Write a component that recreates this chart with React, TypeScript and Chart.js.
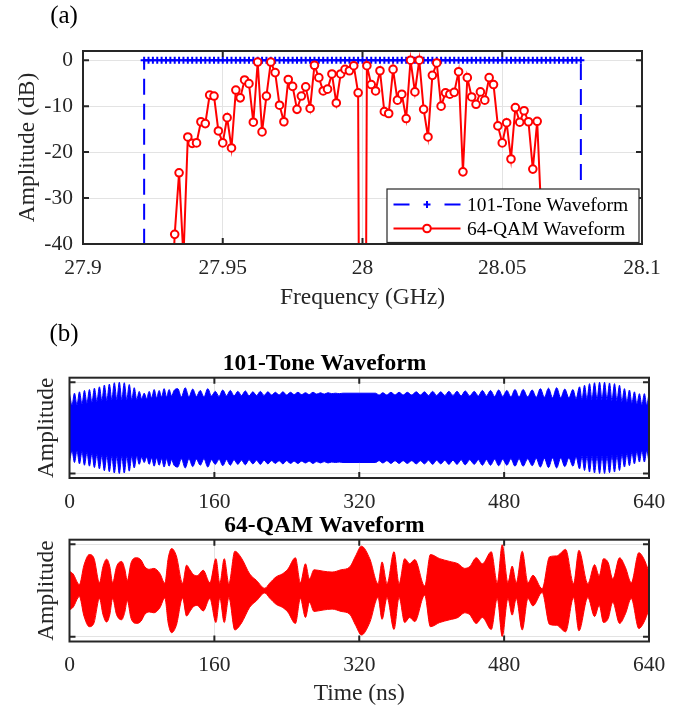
import React, { useEffect, useRef } from 'react';
import { Chart, registerables } from 'chart.js';

Chart.register(...registerables);

// ---------------- Panel (a): spectrum ----------------
const binCenterGHz = 28;
const binSpacingGHz = 0.0015625; // 1.5625 MHz tone spacing
const binCount = 101; // bins k = -50 .. 50

const toneLevelDb = [
  0, 0, 0, 0, 0, 0, 0, 0, 0, 0,
  0, 0, 0, 0, 0, 0, 0, 0, 0, 0,
  0, 0, 0, 0, 0, 0, 0, 0, 0, 0,
  0, 0, 0, 0, 0, 0, 0, 0, 0, 0,
  0, 0, 0, 0, 0, 0, 0, 0, 0, 0,
  0,
  0, 0, 0, 0, 0, 0, 0, 0, 0, 0,
  0, 0, 0, 0, 0, 0, 0, 0, 0, 0,
  0, 0, 0, 0, 0, 0, 0, 0, 0, 0,
  0, 0, 0, 0, 0, 0, 0, 0, 0, 0,
  0, 0, 0, 0, 0, 0, 0, 0, 0, 0,
];
const toneEdgeDb = -100;

// k = -50 .. 50
const qamLevelDb: (number | null)[] = [
  null, null, null, null, null, null, -60, -37.9, -24.5, -43,
  -16.7, -18.1, -18.0, -13.4, -13.8, -7.6, -7.8, -15.4, -18.0, -12.5,
  -19.1, -6.5, -8.2, -4.3, -5.1, -13.5, -0.4, -15.6, -7.8, -0.4,
  -2.7, -9.8, -13.4, -4.2, -5.7, -10.7, -7.8, -5.8, -10.5, -1.1,
  -3.8, -6.7, -6.3, -3.0, -9.3, -3.0, -2.0, -2.3, -1.2, -7.1,
  -250,
  -1.2, -5.3, -6.7, -2.3, -11.2, -11.6, -2.0, -8.7, -7.4, -12.7,
  0, -6.9, 0, -10.7, -16.7, -3.3, -0.6, -10.0, -7.1, -7.4,
  -7.0, -2.5, -24.3, -3.8, -8.0, -9.6, -6.9, -8.7, -3.8, -5.3,
  -14.3, -18.0, -13.6, -21.5, -10.3, -13.5, -11.0, -13.4, -23.7, -13.3,
  -35, -38, -45, null, null, null, null, null, null, null,
];

const freqTicks = [27.9, 27.95, 28, 28.05, 28.1];
const freqTickLabels = ['27.9', '27.95', '28', '28.05', '28.1'];
const dbTicks = [-40, -30, -20, -10, 0];
const dbTickLabels = ['-40', '-30', '-20', '-10', '0'];

// ---------------- Panel (b): time-domain envelopes ----------------
const timeTicks = [0, 160, 320, 480, 640];
const timeTickLabels = ['0', '160', '320', '480', '640'];
const ampTicks = [-1, 1];

const toneTimeNs = [
  0, 2.75, 5.5, 8.25, 11, 13.75, 16.5, 19.25, 22, 24.75,
  27.5, 30.25, 33, 35.75, 38.5, 41.25, 44, 46.75, 49.5, 52.25,
  55, 57.75, 60.5, 63.25, 66, 68.75, 71.5, 74.25, 77, 79.75,
  82.5, 85.25, 88, 90.75, 93.5, 96.25, 99, 101.75, 104.5, 107.25,
  110, 112.75, 115.5,
  119.5, 123.6, 127.8, 131.9, 136.1, 140.2, 144.4, 148.5, 152.7, 156.8,
  161, 165.1, 169.3, 173.4, 177.6, 181.7, 185.9, 190, 194.2, 198.3,
  202.5, 206.6, 210.8, 214.9, 219.1, 223.2, 227.4, 231.5, 235.7, 239.8,
  244, 248.1, 252.3, 256.4, 260.6, 264.7, 268.9, 273, 277.2, 281.3,
  285.5, 289.6, 293.8, 297.9, 302.1,
  320, 338,
  342, 346, 350.5, 355, 359.5, 364, 368.5, 373, 378, 383,
  387.5, 392, 396.5, 401, 405.5, 410, 414.5, 419, 423.5, 428,
  432.5, 437, 442, 447, 451.5, 456, 460.5, 465, 469.5, 474,
  478.5, 483, 487.5, 492, 496.5, 501, 506, 511, 515.5, 520,
  524.5, 529, 533.5, 538, 542.5, 547, 551.5, 556, 559.5,
  563.3, 566, 568.8, 571.5, 574.3, 577, 579.8, 582.6, 585.4, 588.1,
  590.9, 593.6, 596.4, 599.1, 601.9, 604.6, 607.4, 610.1, 612.9, 615.6,
  618.4, 621.1, 623.9, 626.6, 629.4, 632.1, 634.9, 637.5, 640,
];
const toneEnvelope = [
  0.75, 0.5, 0.76, 0.5, 0.79, 0.52, 0.82, 0.54, 0.84, 0.56,
  0.87, 0.58, 0.9, 0.6, 0.94, 0.6, 0.96, 0.62, 0.99, 0.62,
  1.0, 0.62, 0.99, 0.62, 0.95, 0.62, 0.88, 0.62, 0.8, 0.64,
  0.76, 0.64, 0.8, 0.66, 0.84, 0.66, 0.82, 0.68, 0.86, 0.68,
  0.84, 0.7, 0.82,
  0.86, 0.68, 0.88, 0.68, 0.85, 0.69, 0.82, 0.68, 0.86, 0.7,
  0.8, 0.69, 0.83, 0.7, 0.82, 0.7, 0.8, 0.71, 0.81, 0.7,
  0.79, 0.71, 0.8, 0.71, 0.79, 0.72, 0.78, 0.72, 0.79, 0.72,
  0.78, 0.73, 0.78, 0.73, 0.77, 0.73, 0.78, 0.74, 0.77, 0.74,
  0.77, 0.75, 0.76, 0.75, 0.76,
  0.76, 0.76,
  0.72, 0.77, 0.72, 0.78, 0.72, 0.78, 0.72, 0.78, 0.72, 0.79,
  0.72, 0.79, 0.71, 0.8, 0.71, 0.79, 0.71, 0.8, 0.71, 0.8,
  0.7, 0.81, 0.7, 0.8, 0.7, 0.82, 0.7, 0.82, 0.69, 0.83,
  0.69, 0.82, 0.68, 0.84, 0.68, 0.84, 0.68, 0.83, 0.67, 0.86,
  0.67, 0.87, 0.66, 0.88, 0.66, 0.85, 0.66, 0.84, 0.64,
  0.9, 0.62, 0.935, 0.62, 0.97, 0.62, 0.99, 0.62, 1.0, 0.62,
  1.0, 0.62, 0.985, 0.6, 0.97, 0.6, 0.935, 0.58, 0.86, 0.56,
  0.83, 0.54, 0.79, 0.52, 0.75, 0.5, 0.75, 0.5, 0.75,
];

const qamTimeNs = [
  0, 4, 10.9, 16, 21.9, 27, 33.1, 37, 41, 44.5,
  47.6, 52, 57.6, 61, 63.8, 68, 74.1, 79, 83.3, 88,
  93.2, 99.8, 105.3, 109, 112.8, 118, 124.9, 129.3, 133, 136.7,
  141, 147.7, 155, 161.7, 166, 170.9, 176, 182.6, 190, 199,
  206.5, 215.7, 221, 228.4, 235, 241, 249.5, 255, 260.6, 265,
  270, 280, 290, 300, 309.5, 316, 322.4, 331.6, 340.8, 345.2,
  350.7, 358.4, 364, 370.2, 375.7, 381.3, 392.3, 398.6, 408.8, 419.9,
  429.1, 436.4, 442, 449.3, 456, 465.8, 472.4, 477.9, 484.2, 488.9,
  493.4, 500, 506.3, 511.8, 522, 530.2, 538, 547.9, 556.7, 562.6,
  572.5, 579.9, 585, 589.8, 595, 600, 607.5, 614, 620.4, 628.8,
  634, 640,
];
const qamEnvelope = [
  0.42, 0.36, 0.13, 0.55, 0.78, 0.7, 0.17, 0.52, 0.68, 0.52,
  0.17, 0.52, 0.63, 0.47, 0.22, 0.6, 0.71, 0.66, 0.51, 0.46,
  0.48, 0.37, 0.16, 0.7, 0.91, 0.75, 0.16, 0.55, 0.45, 0.35,
  0.32, 0.44, 0.17, 0.69, 0.16, 0.69, 0.15, 0.85, 0.7, 0.36,
  0.22, 0.05, 0.16, 0.3, 0.36, 0.46, 0.71, 0.17, 0.58, 0.25,
  0.45, 0.42, 0.4, 0.45, 0.51, 0.75, 0.96, 0.69, 0.15, 0.62,
  0.15, 0.84, 0.15, 0.69, 0.58, 0.67, 0.1, 0.78, 0.69, 0.63,
  0.58, 0.48, 0.52, 0.71, 0.58, 0.84, 0.17, 0.99, 0.17, 0.53,
  0.17, 0.85, 0.17, 0.33, 0.04, 0.73, 0.75, 0.89, 0.15, 0.87,
  0.15, 0.56, 0.32, 0.69, 0.6, 0.25, 0.71, 0.5, 0.17, 0.82,
  0.7, 0.41,
];

// ---------------- styling ----------------
const FONT = '"Liberation Serif", "Times New Roman", Times, serif';
const AXC = '#262626';
const GRID = '#e3e3e3';
const BLUE = '#0000ff';
const RED = '#ff0000';
const TICK_SIZE = 21.5;
const LABEL_SIZE = 23.5;

const framePlugin = {
  id: 'matlabFrame',
  afterDatasetsDraw(chart: any) {
    const { ctx, chartArea: a, scales } = chart;
    const len = 6;
    ctx.save();
    ctx.strokeStyle = AXC;
    ctx.lineWidth = 2;
    ctx.beginPath();
    scales.x.ticks.forEach((t: any) => {
      const px = scales.x.getPixelForValue(t.value);
      if (px > a.left + 1 && px < a.right - 1) {
        ctx.moveTo(px, a.bottom);
        ctx.lineTo(px, a.bottom - len);
        ctx.moveTo(px, a.top);
        ctx.lineTo(px, a.top + len);
      }
    });
    scales.y.ticks.forEach((t: any) => {
      const py = scales.y.getPixelForValue(t.value);
      if (py > a.top + 1 && py < a.bottom - 1) {
        ctx.moveTo(a.left, py);
        ctx.lineTo(a.left + len, py);
        ctx.moveTo(a.right, py);
        ctx.lineTo(a.right - len, py);
      }
    });
    ctx.stroke();
    ctx.strokeRect(a.left, a.top, a.right - a.left, a.bottom - a.top);
    ctx.restore();
  },
};

const panelLabelPlugin = {
  id: 'panelLabel',
  afterDraw(chart: any, _args: any, opts: any) {
    if (!opts || !opts.text) return;
    const ctx = chart.ctx;
    ctx.save();
    ctx.fillStyle = '#000';
    ctx.font = `${opts.size}px ${FONT}`;
    ctx.textAlign = 'center';
    ctx.textBaseline = 'middle';
    ctx.fillText(opts.text, opts.x, opts.y);
    ctx.restore();
  },
};

const legendBoxPlugin = {
  id: 'legendBox',
  afterDatasetsDraw(chart: any, _args: any, opts: any) {
    if (!opts || !opts.show) return;
    const ctx = chart.ctx;
    const a = chart.chartArea;
    const x1 = a.right - 3;
    const y1 = a.bottom - 1.5;
    const x0 = x1 - 252;
    const y0 = y1 - 53.5;
    ctx.save();
    ctx.fillStyle = '#ffffff';
    ctx.fillRect(x0, y0, x1 - x0, y1 - y0);
    ctx.strokeStyle = AXC;
    ctx.lineWidth = 1.2;
    ctx.strokeRect(x0, y0, x1 - x0, y1 - y0);
    const ds = chart.data.datasets;
    const tone = ds.find((d: any) => d.pointStyle === 'cross');
    const qam = ds.find((d: any) => d.pointStyle === 'circle');
    const lx0 = x0 + 6.5;
    const lx1 = x0 + 73.5;
    const mx = (lx0 + lx1) / 2;
    const r1 = y0 + 15.5;
    const r2 = y0 + 39.5;
    // tone entry
    ctx.strokeStyle = BLUE;
    ctx.lineWidth = 2;
    ctx.setLineDash([16, 35]);
    ctx.beginPath();
    ctx.moveTo(lx0, r1);
    ctx.lineTo(lx1, r1);
    ctx.stroke();
    ctx.setLineDash([]);
    ctx.beginPath();
    ctx.moveTo(mx - 3.5, r1);
    ctx.lineTo(mx + 3.5, r1);
    ctx.moveTo(mx, r1 - 3.5);
    ctx.lineTo(mx, r1 + 3.5);
    ctx.stroke();
    // qam entry
    ctx.strokeStyle = RED;
    ctx.lineWidth = 2;
    ctx.beginPath();
    ctx.moveTo(lx0, r2);
    ctx.lineTo(lx1, r2);
    ctx.stroke();
    ctx.fillStyle = '#fff';
    ctx.lineWidth = 2;
    ctx.beginPath();
    ctx.arc(mx, r2, 3.8, 0, Math.PI * 2);
    ctx.fill();
    ctx.stroke();
    ctx.fillStyle = '#000';
    ctx.font = `19.5px ${FONT}`;
    ctx.textAlign = 'left';
    ctx.textBaseline = 'middle';
    ctx.fillText(tone.label, x0 + 80, r1 + 1);
    ctx.fillText(qam.label, x0 + 80, r2 + 1);
    ctx.restore();
  },
};

function makeSpectrumConfig(): any {
  const freqs = toneLevelDb.map((_, i) => binCenterGHz + (i - (binCount - 1) / 2) * binSpacingGHz);
  const toneData = [
    { x: freqs[0], y: toneEdgeDb },
    ...freqs.map((f, i) => ({ x: f, y: toneLevelDb[i] })),
    { x: freqs[freqs.length - 1], y: toneEdgeDb },
  ];
  const qamData = freqs.map((f, i) => ({ x: f, y: qamLevelDb[i] }));
  const lastTone = toneData.length - 1;
  return {
    type: 'line',
    data: {
      datasets: [
        {
          label: '101-Tone Waveform',
          data: toneData,
          order: 1,
          borderColor: BLUE,
          borderWidth: 2,
          borderDash: [16, 9],
          pointStyle: 'cross',
          pointRadius: (c: any) => (c.dataIndex === 0 || c.dataIndex === lastTone ? 0 : 3.5),
          pointBorderWidth: 2,
          pointBorderColor: BLUE,
          pointBackgroundColor: BLUE,
          fill: false,
          tension: 0,
        },
        {
          label: '64-QAM Waveform',
          data: qamData,
          order: 0,
          borderColor: RED,
          borderWidth: 2,
          pointStyle: 'circle',
          pointRadius: 3.8,
          pointBorderWidth: 2,
          pointBorderColor: RED,
          pointBackgroundColor: '#ffffff',
          fill: false,
          tension: 0,
          spanGaps: false,
        },
      ],
    },
    options: {
      responsive: false,
      animation: false,
      events: [],
      layout: { padding: { left: 0, right: 51, top: 51, bottom: 399.5 } },
      plugins: {
        legend: { display: false },
        tooltip: { enabled: false },
        title: { display: false },
        legendBox: { show: true },
        panelLabel: { text: '(a)', x: 64, y: 16, size: 25 },
      },
      scales: {
        x: {
          type: 'linear',
          min: 27.9,
          max: 28.1,
          afterBuildTicks: (s: any) => {
            s.ticks = freqTicks.map((v) => ({ value: v }));
          },
          afterFit: (s: any) => {
            s.height = 67.5;
          },
          grid: { color: GRID, lineWidth: 1, drawTicks: false },
          border: { display: false },
          ticks: {
            autoSkip: false,
            maxRotation: 0,
            padding: 11,
            color: AXC,
            font: { family: FONT, size: TICK_SIZE },
            callback: (_v: any, i: number) => freqTickLabels[i],
          },
          title: {
            display: true,
            text: 'Frequency (GHz)',
            color: AXC,
            font: { family: FONT, size: LABEL_SIZE },
            padding: { top: 0, bottom: 0 },
          },
        },
        y: {
          type: 'linear',
          min: -40,
          max: 2,
          afterBuildTicks: (s: any) => {
            s.ticks = dbTicks.map((v) => ({ value: v }));
          },
          afterFit: (s: any) => {
            s.width = 83;
          },
          grid: { color: GRID, lineWidth: 1, drawTicks: false },
          border: { display: false },
          ticks: {
            padding: 10,
            color: AXC,
            font: { family: FONT, size: TICK_SIZE },
            callback: (_v: any, i: number) => dbTickLabels[i],
          },
          title: {
            display: true,
            text: 'Amplitude (dB)',
            color: AXC,
            font: { family: FONT, size: LABEL_SIZE },
            padding: { top: 14, bottom: 0 },
          },
        },
      },
    },
    plugins: [framePlugin, legendBoxPlugin, panelLabelPlugin],
  };
}

function makeWaveConfig(
  title: string,
  times: number[],
  env: number[],
  color: string,
  pad: { top: number; bottom: number },
  xAxisHeight: number,
  showXTitle: boolean,
  panelLabel: any
): any {
  const upper = times.map((t, i) => ({ x: t, y: env[i] }));
  const lower = times.map((t, i) => ({ x: t, y: -env[i] }));
  return {
    type: 'line',
    data: {
      datasets: [
        {
          label: title,
          data: upper,
          fill: '+1',
          backgroundColor: color,
          borderColor: color,
          borderWidth: 1,
          pointRadius: 0,
          cubicInterpolationMode: 'monotone',
        },
        {
          label: title + ' (lower)',
          data: lower,
          fill: false,
          backgroundColor: color,
          borderColor: color,
          borderWidth: 1,
          pointRadius: 0,
          cubicInterpolationMode: 'monotone',
        },
      ],
    },
    options: {
      responsive: false,
      animation: false,
      events: [],
      layout: { padding: { left: 0, right: 44, top: pad.top, bottom: pad.bottom } },
      plugins: {
        legend: { display: false },
        tooltip: { enabled: false },
        title: {
          display: true,
          text: title,
          color: '#000',
          font: { family: FONT, size: LABEL_SIZE, weight: 'bold' },
          padding: { top: 0, bottom: 0 },
        },
        panelLabel,
      },
      scales: {
        x: {
          type: 'linear',
          min: 0,
          max: 640,
          afterBuildTicks: (s: any) => {
            s.ticks = timeTicks.map((v) => ({ value: v }));
          },
          afterFit: (s: any) => {
            s.height = xAxisHeight;
          },
          grid: { color: GRID, lineWidth: 1, drawTicks: false },
          border: { display: false },
          ticks: {
            autoSkip: false,
            maxRotation: 0,
            padding: 11,
            color: AXC,
            font: { family: FONT, size: TICK_SIZE },
            callback: (_v: any, i: number) => timeTickLabels[i],
          },
          title: {
            display: showXTitle,
            text: 'Time (ns)',
            color: AXC,
            font: { family: FONT, size: LABEL_SIZE },
            padding: { top: 0, bottom: 3 },
          },
        },
        y: {
          type: 'linear',
          min: -1.1,
          max: 1.1,
          afterBuildTicks: (s: any) => {
            s.ticks = ampTicks.map((v) => ({ value: v }));
          },
          afterFit: (s: any) => {
            s.width = 69.5;
          },
          grid: { color: GRID, lineWidth: 1, drawTicks: false },
          border: { display: false },
          ticks: { display: false },
          title: {
            display: true,
            text: 'Amplitude',
            color: AXC,
            font: { family: FONT, size: LABEL_SIZE },
            padding: { top: 33, bottom: 0 },
          },
        },
      },
    },
    plugins: [framePlugin, panelLabelPlugin],
  };
}

export default function App() {
  const refA = useRef<HTMLCanvasElement | null>(null);
  const refB1 = useRef<HTMLCanvasElement | null>(null);
  const refB2 = useRef<HTMLCanvasElement | null>(null);

  useEffect(() => {
    const charts: Chart[] = [];
    if (refA.current) charts.push(new Chart(refA.current, makeSpectrumConfig()));
    if (refB1.current)
      charts.push(
        new Chart(
          refB1.current,
          makeWaveConfig('101-Tone Waveform', toneTimeNs, toneEnvelope, BLUE, { top: 349.5, bottom: 193 }, 40, false, {
            text: '(b)',
            x: 64,
            y: 334,
            size: 25,
          })
        )
      );
    if (refB2.current)
      charts.push(
        new Chart(
          refB2.current,
          makeWaveConfig('64-QAM Waveform', qamTimeNs, qamEnvelope, RED, { top: 511.5, bottom: 0 }, 69.5, true, null)
        )
      );
    return () => charts.forEach((c) => c.destroy());
  }, []);

  const cs: React.CSSProperties = { position: 'absolute', left: 0, top: 0, display: 'block' };
  return (
    <div style={{ position: 'absolute', left: 0, top: 0, width: 693, height: 711, background: '#fff' }}>
      <canvas ref={refA} width={693} height={711} style={cs} />
      <canvas ref={refB1} width={693} height={711} style={cs} />
      <canvas ref={refB2} width={693} height={711} style={cs} />
    </div>
  );
}
